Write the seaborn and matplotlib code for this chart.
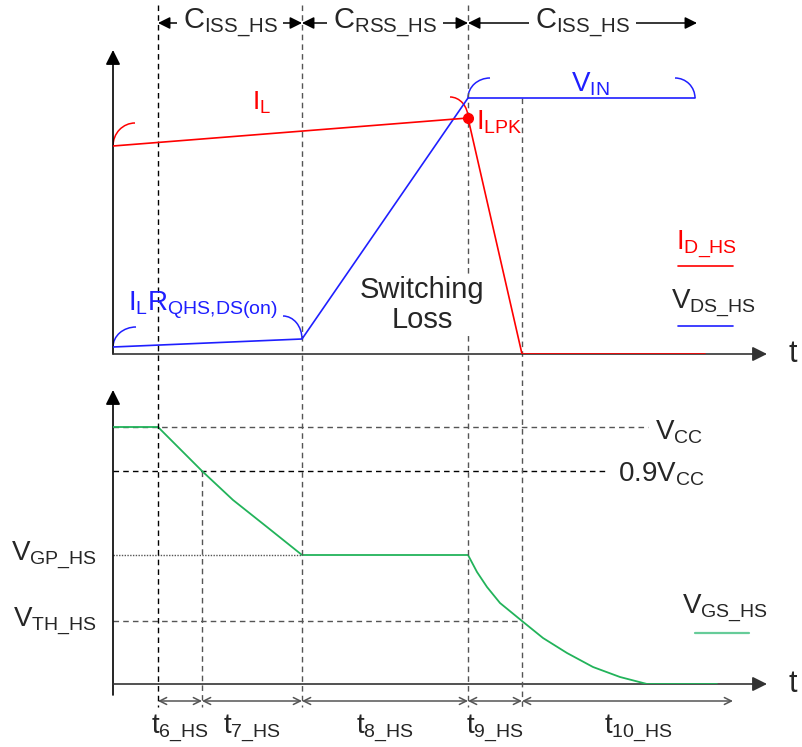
import matplotlib
matplotlib.use("Agg")
import matplotlib.pyplot as plt
from matplotlib.patches import Arc
import pandas as pd
import seaborn as sns

# time marks (arbitrary units, measured from the vertical axis)
t_names = ["6", "7", "8", "9", "10"]
t_start = [4.5, 8.9, 18.9, 35.5, 40.9]
t_stop = [8.9, 18.9, 35.5, 40.9, 62.0]

# capacitance phases shown above the plot
cap_names = ["ISS", "RSS", "ISS"]
cap_start = [4.5, 18.9, 35.5]
cap_stop = [18.9, 35.5, 58.4]

# upper plot: inductor / drain current and drain-source voltage
il_t = [0.0, 35.5, 40.9, 59.2]
il_v = [20.8, 23.6, 0.0, 0.0]
vds_t = [0.0, 18.9, 35.5, 58.2]
vds_v = [0.7, 1.5, 25.6, 25.6]

# lower plot: gate-source voltage
vgs_t = [0.0, 4.5, 8.9, 12.0, 15.4, 18.9, 35.5, 36.4, 37.4, 38.7, 40.9,
         43.0, 45.4, 48.0, 50.7, 53.4, 60.4]
vgs_v = [25.7, 25.7, 21.3, 18.4, 15.7, 12.9, 12.9, 11.2, 9.7, 8.1, 6.3,
         4.6, 3.1, 1.7, 0.7, 0.0, 0.0]

v_cc = 25.7
v_cc90 = 21.3
v_gp = 12.9
v_th = 6.3

RED = "#ff0000"
BLUE = "#1f1fff"
GREEN = "#22b35a"
GREY = "#555555"

sns.set_style("white")
plt.rcParams["font.family"] = ["Liberation Sans", "DejaVu Sans"]
plt.rcParams["mathtext.fontset"] = "custom"
plt.rcParams["mathtext.rm"] = "Liberation Sans"
plt.rcParams["mathtext.it"] = "Liberation Sans"
plt.rcParams["mathtext.default"] = "regular"

fig = plt.figure(figsize=(8.03, 7.47), dpi=100)
W, H = 803, 747
ax = fig.add_axes([113 / W, (H - 354) / H, 654 / W, 304 / H])
bx = fig.add_axes([113 / W, (H - 684) / H, 654 / W, 294 / H])
ax.set_zorder(2)
ax.patch.set_visible(False)
for a, top in [(ax, 30.4), (bx, 29.4)]:
    a.set_xlim(0, 65.4)
    a.set_ylim(0, top)
    a.axis("off")

arrow_kw = dict(arrowstyle="-|>", mutation_scale=22, color="black", lw=1.2,
                shrinkA=0, shrinkB=0)

# ---- upper plot ----
ax.annotate("", xy=(0, 30.4), xytext=(0, 0), arrowprops=arrow_kw, annotation_clip=False)
ax.annotate("", xy=(65.4, 0), xytext=(0, 0), arrowprops=dict(arrow_kw, color="#333333"),
            annotation_clip=False)
ax.text(67.6, 0, "t", fontsize=22, va="center", ha="left")

sns.lineplot(x=vds_t, y=vds_v, ax=ax, color=BLUE, lw=1.2, sort=False, estimator=None,
             zorder=4)
sns.lineplot(x=il_t, y=il_v, ax=ax, color=RED, lw=1.2, sort=False, estimator=None,
             zorder=4)
ax.plot(il_t[1], il_v[1], "o", color=RED, ms=7, zorder=5)

# bracket arcs
ax.add_patch(Arc((il_t[0] + 2.2, il_v[0]), 4.4, 4.6, theta1=90, theta2=180, color=RED, lw=1.1))
ax.add_patch(Arc((il_t[1] - 1.8, il_v[1]), 3.6, 4.2, theta1=0, theta2=90, color=RED, lw=1.1))
ax.add_patch(Arc((vds_t[0] + 2.3, vds_v[0]), 4.6, 4.0, theta1=90, theta2=180, color=BLUE, lw=1.1))
ax.add_patch(Arc((vds_t[1] - 1.9, vds_v[1]), 3.8, 4.6, theta1=0, theta2=90, color=BLUE, lw=1.1))
ax.add_patch(Arc((vds_t[2] + 2.2, vds_v[2]), 4.4, 4.0, theta1=90, theta2=180, color=BLUE, lw=1.1))
ax.add_patch(Arc((vds_t[3] - 2.0, vds_v[3]), 4.0, 4.0, theta1=0, theta2=90, color=BLUE, lw=1.1))
ax.add_patch(Arc((30.0, 5.9), 4.2, 3.4, theta1=90, theta2=180, color=BLUE, lw=1.1))

ax.text(14.9, 25.1, r"$I_L$", color=RED, fontsize=19, ha="center", va="center")
ax.text(36.3, 23.2, r"$I_{LPK}$", color=RED, fontsize=20, ha="left", va="center")
ax.text(47.7, 27.0, r"$V_{IN}$", color=BLUE, fontsize=20, ha="center", va="center")
ax.text(1.5, 4.9, r"$I_LR_{QHS{,}DS(on)}$", color=BLUE, fontsize=20, ha="left", va="center")
ax.text(30.9, 4.9, "Switching\nLoss", fontsize=21, ha="center", va="center", zorder=6,
        linespacing=1.1, bbox=dict(facecolor="white", edgecolor="none", pad=1))

# legend-like labels
ax.plot([56.5, 62.0], [8.8, 8.8], color=RED, lw=1.2, clip_on=False)
ax.text(59.3, 11.0, r"$I_{D\_HS}$", color=RED, fontsize=20, ha="center", va="center")
ax.plot([56.5, 62.0], [2.8, 2.8], color=BLUE, lw=1.2, clip_on=False)
ax.text(60.0, 5.1, r"$V_{DS\_HS}$", fontsize=20, ha="center", va="center")

# capacitance phase arrows
for name, s, e in zip(cap_names, cap_start, cap_stop):
    ax.annotate("", xy=(e, 33.1), xytext=(s, 33.1), annotation_clip=False,
                arrowprops=dict(arrowstyle="<|-|>", mutation_scale=18, color="black",
                                lw=1.1, shrinkA=0, shrinkB=0))
    ax.text((s + e) / 2, 33.1, r"$C_{%s\_HS}$" % name, fontsize=21, ha="center",
            va="center", zorder=6, bbox=dict(facecolor="white", edgecolor="none", pad=4))

# vertical dashed guides through both plots
guide_top = [34.9, 34.9, 34.9, vds_v[2]]
guide_x = [t_start[0], t_start[2], t_start[3], t_start[4]]
guide_col = ["black", GREY, GREY, GREY]
for x, yt, c in zip(guide_x, guide_top, guide_col):
    ax.plot([x, x], [yt, -35.3], ls=(0, (4, 3)), color=c, lw=1.0, clip_on=False, zorder=1)

# ---- lower plot ----
bx.annotate("", xy=(0, 29.4), xytext=(0, -1.1), arrowprops=arrow_kw, annotation_clip=False)
bx.annotate("", xy=(65.4, 0), xytext=(0, 0), arrowprops=dict(arrow_kw, color="#333333"),
            annotation_clip=False)
bx.text(67.6, 0, "t", fontsize=22, va="center", ha="left")

dash = (0, (4, 3))
bx.plot([0, 53.5], [v_cc, v_cc], ls=dash, color=GREY, lw=1.0)
bx.plot([0, 49.4], [v_cc90, v_cc90], ls=dash, color="black", lw=1.0)
bx.plot([0, t_start[2]], [v_gp, v_gp], ls=(0, (1, 1)), color=GREY, lw=1.0)
bx.plot([0, t_start[4]], [v_th, v_th], ls=dash, color=GREY, lw=1.0)
bx.plot([t_start[1], t_start[1]], [v_cc90, -2.3], ls=dash, color=GREY, lw=1.0, clip_on=False)

vgs = pd.DataFrame({"t": vgs_t, "v": vgs_v})
sns.lineplot(data=vgs, x="t", y="v", ax=bx, color=GREEN, lw=1.3, sort=False,
             estimator=None, zorder=4)

bx.text(54.2, v_cc - 0.5, r"$V_{CC}$", fontsize=20, ha="left", va="center")
bx.text(50.5, v_cc90 - 0.3, r"$0.9V_{CC}$", fontsize=20, ha="left", va="center")
bx.text(-1.6, v_gp, r"$V_{GP\_HS}$", fontsize=20, ha="right", va="center", clip_on=False)
bx.text(-1.6, v_th, r"$V_{TH\_HS}$", fontsize=20, ha="right", va="center", clip_on=False)

bx.plot([58.2, 63.6], [5.1, 5.1], color="#66cc99", lw=1.6, clip_on=False)
bx.text(61.2, 7.6, r"$V_{GS\_HS}$", fontsize=20, ha="center", va="center")

# interval arrows and labels
label_x = [(s + e) / 2 for s, e in zip(t_start, t_stop)]
label_x[-1] = 52.5
for name, s, e, lx in zip(t_names, t_start, t_stop, label_x):
    bx.annotate("", xy=(e, -1.7), xytext=(s, -1.7), annotation_clip=False,
                arrowprops=dict(arrowstyle="<->,head_length=0.5,head_width=0.25",
                                color=GREY, lw=1.1, shrinkA=0, shrinkB=0))
    bx.text(lx, -4.4, r"$t_{%s\_HS}$" % name, fontsize=20, ha="center", va="center",
            clip_on=False)

fig.savefig("out.png", dpi=100)
